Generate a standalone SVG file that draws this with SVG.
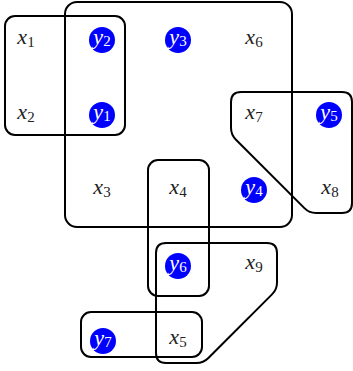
<svg xmlns="http://www.w3.org/2000/svg" width="353" height="371" viewBox="0 0 353 371">
<style>
.hull{fill:none;stroke:#000;stroke-width:2;stroke-linejoin:round}
.dot{fill:#0000ff}
.lx{font-family:"Liberation Serif",serif;font-style:italic;font-size:22px;fill:#222;text-anchor:middle}
.ly{font-family:"Liberation Serif",serif;font-style:italic;font-size:22px;fill:#fff;text-anchor:middle}
.sub{font-style:normal;font-size:15px}
</style>
<rect width="353" height="371" fill="#fff"/>
<g id="connectors">
<rect class="hull" x="5" y="16" width="120" height="119" rx="10"/>
<rect class="hull" x="65" y="2" width="227" height="225" rx="12"/>
<path class="hull" d="M241,92 H342 Q352,92 352,102 V203 Q352,213 342,213 H316 Q309.3,213 304.4,208.1 L236,139.7 Q231,134.7 231,127.7 V102 Q231,92 241,92 Z"/>
<rect class="hull" x="148" y="160" width="61" height="136" rx="10"/>
<path class="hull" d="M166,243 H267 Q277,243 277,253 V282.4 Q277,289.4 272,294.4 L208.4,358 Q203.4,363 196.4,363 H166 Q156,363 156,353 V253 Q156,243 166,243 Z"/>
<rect class="hull" x="81" y="312" width="121" height="45" rx="10"/>
</g>
<g id="x1"><text class="lx" x="26" y="44">x<tspan class="sub" dy="3">1</tspan></text></g>
<g id="x2"><text class="lx" x="26" y="119">x<tspan class="sub" dy="3">2</tspan></text></g>
<g id="x3"><text class="lx" x="102" y="194">x<tspan class="sub" dy="3">3</tspan></text></g>
<g id="x4"><text class="lx" x="178" y="194">x<tspan class="sub" dy="3">4</tspan></text></g>
<g id="x5"><text class="lx" x="178" y="344">x<tspan class="sub" dy="3">5</tspan></text></g>
<g id="x6"><text class="lx" x="254" y="44">x<tspan class="sub" dy="3">6</tspan></text></g>
<g id="x7"><text class="lx" x="254" y="119">x<tspan class="sub" dy="3">7</tspan></text></g>
<g id="x8"><text class="lx" x="330" y="194">x<tspan class="sub" dy="3">8</tspan></text></g>
<g id="x9"><text class="lx" x="254" y="269">x<tspan class="sub" dy="3">9</tspan></text></g>
<g id="y1"><circle class="dot" cx="102" cy="115" r="13"/><text class="ly" x="102" y="119">y<tspan class="sub" dy="2">1</tspan></text></g>
<g id="y2"><circle class="dot" cx="102" cy="40" r="13"/><text class="ly" x="102" y="44">y<tspan class="sub" dy="2">2</tspan></text></g>
<g id="y3"><circle class="dot" cx="178" cy="40" r="13"/><text class="ly" x="178" y="44">y<tspan class="sub" dy="2">3</tspan></text></g>
<g id="y4"><circle class="dot" cx="254" cy="190" r="13"/><text class="ly" x="254" y="194">y<tspan class="sub" dy="2">4</tspan></text></g>
<g id="y5"><circle class="dot" cx="329" cy="115" r="13"/><text class="ly" x="329" y="119">y<tspan class="sub" dy="2">5</tspan></text></g>
<g id="y6"><circle class="dot" cx="178" cy="266" r="13"/><text class="ly" x="178" y="270">y<tspan class="sub" dy="2">6</tspan></text></g>
<g id="y7"><circle class="dot" cx="103" cy="341" r="13"/><text class="ly" x="103" y="345">y<tspan class="sub" dy="2">7</tspan></text></g>
</svg>
